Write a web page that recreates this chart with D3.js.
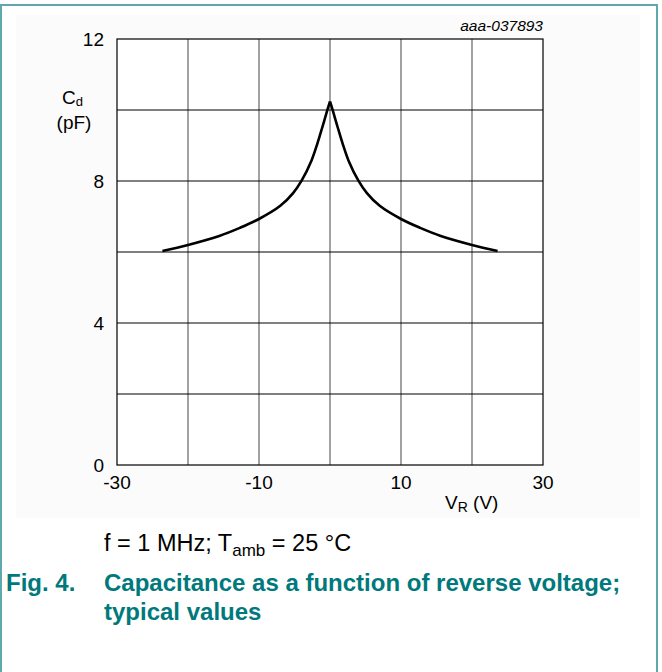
<!DOCTYPE html>
<html>
<head>
<meta charset="utf-8">
<script src="https://cdn.jsdelivr.net/npm/d3@7"></script>
<style>
  body { margin: 0; background: #fff; }
  svg { display: block; font-family: "Liberation Sans", Arial, sans-serif; }
</style>
</head>
<body>
<svg id="svg" width="662" height="672"></svg>
<script>
// reverse voltage (V) and diode capacitance (pF)
const voltage = [-23.6, -20, -15.5, -12.7, -10, -7, -5.2, -4, -2.6, -1.8, -1.1, -0.4, 0,
                 0.4, 1.1, 1.8, 2.6, 4, 5.2, 7, 10, 12.7, 15.5, 20, 23.6];
const capacitance = [6.03, 6.2, 6.46, 6.68, 6.93, 7.3, 7.66, 8.01, 8.58, 9.04, 9.5, 9.98, 10.24,
                     9.98, 9.5, 9.04, 8.58, 8.01, 7.66, 7.3, 6.93, 6.68, 6.46, 6.2, 6.03];
const xTicks = [-30, -10, 10, 30];
const xGrid = [-30, -20, -10, 0, 10, 20, 30];
const yTicks = [0, 4, 8, 12];
const yGrid = [0, 2, 4, 6, 8, 10, 12];

const svg = d3.select("#svg");
const teal = "#00797d";

// outer frame and faint chart panel
svg.append("rect")
    .attr("x", 1).attr("y", 5)
    .attr("width", 656).attr("height", 680)
    .attr("fill", "none")
    .attr("stroke", "#5fa9ac")
    .attr("stroke-width", 2);

svg.append("rect")
    .attr("x", 16).attr("y", 15)
    .attr("width", 624).attr("height", 503)
    .attr("fill", "#fbfbfb");

const x = d3.scaleLinear().domain([-30, 30]).range([117, 543]);
const y = d3.scaleLinear().domain([0, 12]).range([465, 39]);

const plot = svg.append("g");

plot.append("rect")
    .attr("x", x(-30)).attr("y", y(12))
    .attr("width", x(30) - x(-30)).attr("height", y(0) - y(12))
    .attr("fill", "#fff");

// grid
plot.selectAll(".vgrid").data(xGrid.slice(1, -1)).join("line")
    .attr("x1", d => x(d)).attr("x2", d => x(d))
    .attr("y1", y(0)).attr("y2", y(12))
    .attr("stroke", "#7a7a7a")
    .attr("stroke-width", 1.4);

plot.selectAll(".hgrid").data(yGrid.slice(1, -1)).join("line")
    .attr("x1", x(-30)).attr("x2", x(30))
    .attr("y1", d => y(d)).attr("y2", d => y(d))
    .attr("stroke", "#000")
    .attr("stroke-width", 1);

plot.append("rect")
    .attr("x", x(-30)).attr("y", y(12))
    .attr("width", x(30) - x(-30)).attr("height", y(0) - y(12))
    .attr("fill", "none")
    .attr("stroke", "#000")
    .attr("stroke-width", 1.2);

// curve: two smooth branches meeting in the cusp at 0 V
const points = voltage.map((v, i) => [v, capacitance[i]]);
const branches = [points.filter(d => d[0] <= 0), points.filter(d => d[0] >= 0)];
const line = d3.line()
    .x(d => x(d[0]))
    .y(d => y(d[1]))
    .curve(d3.curveCatmullRom.alpha(0.5));

plot.append("path")
    .attr("d", branches.map(b => line(b)).join(""))
    .attr("fill", "none")
    .attr("stroke", "#000")
    .attr("stroke-width", 2.6)
    .attr("stroke-linejoin", "round");

// tick labels
svg.selectAll(".xt").data(xTicks).join("text")
    .attr("x", d => x(d))
    .attr("y", 489)
    .attr("text-anchor", "middle")
    .attr("font-size", 19)
    .attr("fill", "#000")
    .text(d => d);

svg.selectAll(".yt").data(yTicks).join("text")
    .attr("x", 104)
    .attr("y", d => y(d) + 7)
    .attr("text-anchor", "end")
    .attr("font-size", 19)
    .attr("fill", "#000")
    .text(d => d);

// axis titles
const yTitle = svg.append("text")
    .attr("x", 62).attr("y", 104)
    .attr("font-size", 19);
yTitle.append("tspan").text("C");
yTitle.append("tspan").attr("font-size", 13).attr("dy", 2).text("d");

svg.append("text")
    .attr("x", 74).attr("y", 129)
    .attr("text-anchor", "middle")
    .attr("font-size", 19)
    .text("(pF)");

const xTitle = svg.append("text")
    .attr("x", 445).attr("y", 509)
    .attr("font-size", 19);
xTitle.append("tspan").text("V");
xTitle.append("tspan").attr("font-size", 14).attr("dy", 3).text("R");
xTitle.append("tspan").attr("dy", -3).text(" (V)");

svg.append("text")
    .attr("x", 543).attr("y", 31)
    .attr("text-anchor", "end")
    .attr("font-size", 15.5)
    .attr("font-style", "italic")
    .text("aaa-037893");

// conditions
const cond = svg.append("text")
    .attr("x", 104).attr("y", 551)
    .attr("font-size", 23.5);
cond.append("tspan").text("f = 1 MHz; T");
cond.append("tspan").attr("font-size", 17).attr("dy", 5).text("amb");
cond.append("tspan").attr("dy", -5).text(" = 25 °C");

// caption
svg.append("text")
    .attr("x", 6).attr("y", 591)
    .attr("font-size", 24).attr("font-weight", "bold").attr("fill", teal)
    .text("Fig. 4.");

svg.selectAll(".cap").data(["Capacitance as a function of reverse voltage;", "typical values"]).join("text")
    .attr("x", 104)
    .attr("y", (d, i) => 591 + i * 29)
    .attr("font-size", 24).attr("font-weight", "bold").attr("fill", teal)
    .text(d => d);
</script>
</body>
</html>
